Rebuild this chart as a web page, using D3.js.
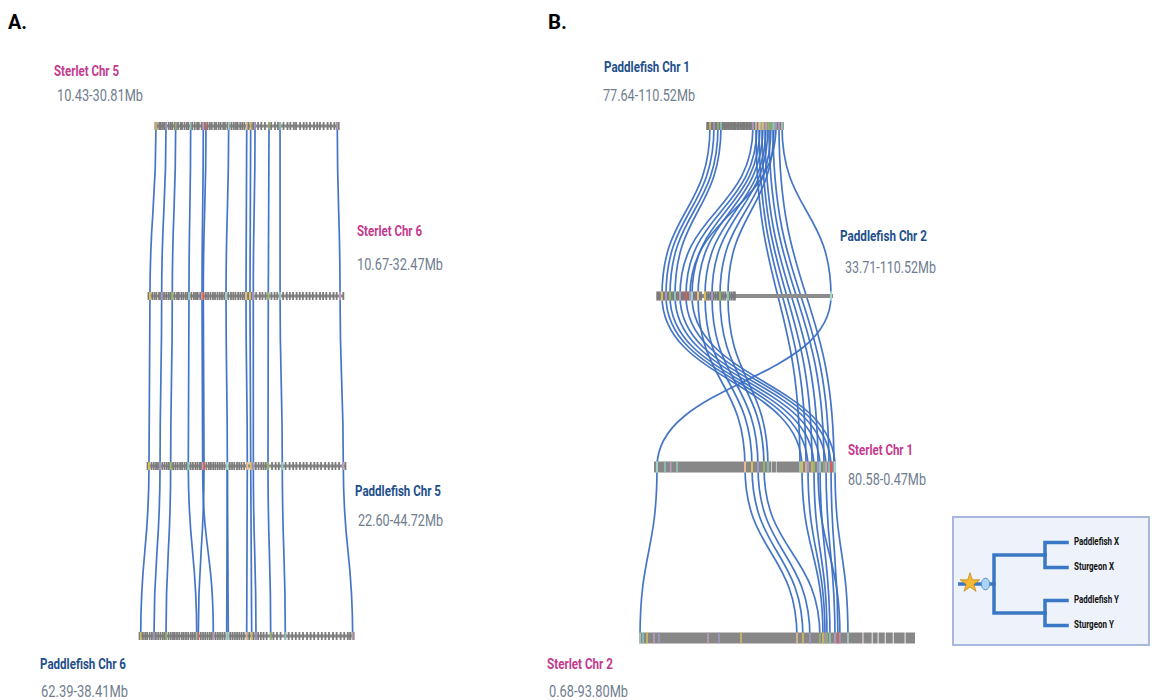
<!DOCTYPE html>
<html>
<head>
<meta charset="utf-8">
<script src="https://cdn.jsdelivr.net/npm/d3@7"></script>
<style>
body { margin: 0; background: #fff; }
svg { display: block; font-family: Roboto, "Noto Sans", sans-serif; }
.panel { font-weight: 700; font-size: 20px; fill: #000; }
.tname { font-weight: 700; font-size: 15px; }
.trange { font-size: 16px; fill: #6f7d8f; }
.leaf { font-weight: 700; font-size: 11px; fill: #111; }
</style>
</head>
<body>
<svg id="chart" width="1152" height="700"></svg>
<script>
/* Synteny blocks: sterlet / paddlefish chromosomes */

// chromosome tracks
var trackIds = ['s5', 's6', 'p5', 'p6', 'p1', 'p2', 's1', 's2'];
var trackNames = ['Sterlet Chr 5', 'Sterlet Chr 6', 'Paddlefish Chr 5', 'Paddlefish Chr 6',
    'Paddlefish Chr 1', 'Paddlefish Chr 2', 'Sterlet Chr 1', 'Sterlet Chr 2'];
var trackStart = [10.43, 10.67, 22.60, 62.39, 77.64, 33.71, 80.58, 0.68];
var trackEnd = [30.81, 32.47, 44.72, 38.41, 110.52, 110.52, 0.47, 93.80];

// gene positions (Mb) on each track
var genesS5 = [10.47, 10.62, 10.9, 11.08, 11.31, 11.52, 11.66, 11.94, 12.15, 12.33, 12.6, 12.74, 12.98, 13.27, 13.42, 13.7,
    13.96, 14.12, 14.4, 14.55, 14.83, 15.1, 15.28, 15.6, 15.79, 15.95, 16.24, 16.5, 16.71, 17.02, 17.2, 17.48, 17.7, 17.99,
    18.18, 18.45, 18.62, 18.9, 19.16, 19.4, 19.58, 19.87, 20.1, 20.33, 20.6, 20.8, 21.05, 21.3, 21.52, 21.85, 22.2, 22.61,
    23.06, 23.3, 23.72, 24.05, 24.3, 24.66, 25.1, 25.42, 25.8, 26.05, 26.5, 26.9, 27.22, 27.6, 28.05, 28.4, 28.7, 29.1,
    29.55, 29.9, 30.3, 30.6, 30.78];
var genesS6 = [10.72, 10.88, 11.15, 11.4, 11.6, 11.9, 12.1, 12.2, 12.45, 12.7, 12.95, 13.15, 13.37, 13.62, 13.9, 14.1,
    14.38, 14.6, 14.85, 15.05, 15.23, 15.5, 15.78, 16.0, 16.2, 16.48, 16.68, 16.82, 17.1, 17.35, 17.62, 17.9, 18.12, 18.4,
    18.66, 18.9, 19.15, 19.35, 19.6, 19.9, 20.15, 20.4, 20.7, 20.95, 21.2, 21.42, 21.57, 21.8, 22.01, 22.2, 22.38, 22.7,
    23.1, 23.4, 23.75, 24.05, 24.4, 24.75, 25.05, 25.36, 25.7, 26.1, 26.45, 26.8, 27.2, 27.55, 27.9, 28.3, 28.65, 29.0,
    29.4, 29.8, 30.15, 30.5, 30.9, 31.3, 31.65, 32.03, 32.4];
var genesP5 = [22.66, 22.82, 23.1, 23.35, 23.6, 23.82, 24.05, 24.3, 24.55, 24.8, 25.03, 25.23, 25.5, 25.76, 26.0, 26.28,
    26.5, 26.77, 27.0, 27.19, 27.45, 27.7, 27.98, 28.2, 28.45, 28.6, 28.79, 28.94, 29.2, 29.48, 29.7, 29.96, 30.2, 30.45,
    30.7, 30.95, 31.2, 31.53, 31.8, 32.05, 32.3, 32.6, 32.85, 33.1, 33.4, 33.75, 34.13, 34.42, 34.7, 35.0, 35.3, 35.55,
    35.8, 36.05, 36.5, 36.9, 37.25, 37.64, 38.0, 38.45, 38.85, 39.2, 39.6, 40.0, 40.35, 40.8, 41.2, 41.55, 41.95, 42.4,
    42.8, 43.2, 43.55, 43.95, 44.42, 44.66];
var genesP6 = [62.33, 62.2, 61.95, 61.7, 61.48, 61.2, 60.95, 60.72, 60.5, 60.25, 60.0, 59.75, 59.55, 59.38, 59.1, 58.85,
    58.6, 58.4, 58.15, 57.9, 57.62, 57.4, 57.15, 56.9, 56.62, 56.4, 56.15, 55.95, 55.78, 55.5, 55.25, 55.0, 54.75, 54.5,
    54.3, 54.1, 53.85, 53.6, 53.35, 53.1, 52.85, 52.61, 52.43, 52.2, 51.95, 51.7, 51.45, 51.2, 50.95, 50.7, 50.38, 50.1,
    49.82, 49.6, 49.34, 49.1, 48.8, 48.5, 48.15, 47.7, 47.4, 47.0, 46.6, 46.07, 45.7, 45.3, 44.9, 44.5, 44.1, 43.65,
    43.25, 42.85, 42.4, 42.0, 41.6, 41.2, 40.75, 40.35, 39.9, 39.5, 39.1, 38.85, 38.56, 38.45];
var genesP1 = [77.7, 78.4, 78.94, 79.6, 80.2, 80.67, 81.3, 81.9, 82.4, 83.0, 83.7, 84.3, 85.0, 85.6, 86.3, 86.9, 87.6,
    88.2, 88.9, 89.5, 90.1, 90.8, 91.4, 92.1, 92.8, 93.4, 94.0, 94.7, 95.3, 96.0, 96.6, 97.2, 97.54, 98.2, 98.84, 99.27,
    99.9, 100.57, 101.2, 101.87, 102.5, 103.16, 103.6, 104.03, 104.46, 105.0, 105.33, 105.9, 106.19, 106.62, 107.1,
    107.49, 108.0, 108.79, 109.3, 110.09, 110.45];
var genesP2 = [33.8, 34.4, 35.0, 35.89, 36.5, 37.1, 37.64, 38.3, 38.9, 39.38, 40.0, 40.7, 41.2, 41.57, 42.3, 42.9, 43.75,
    44.4, 45.0, 45.6, 46.37, 47.0, 47.5, 48.11, 48.98, 49.6, 50.3, 51.0, 51.6, 52.3, 53.0, 54.66, 55.4, 56.1, 56.9, 57.71,
    58.4, 59.2, 60.0, 60.6, 61.2, 62.0, 62.8, 63.6, 64.69, 65.4, 66.2, 67.0, 67.7];
// dense tracks drawn as gene blocks [start, end]
var blocksS1 = [[80.58, 28.9], [28.65, 26.9], [26.65, 0.47]];
var blocksS2 = [[0.68, 76.1], [76.4, 79.2], [79.5, 81.2], [81.5, 83.6], [83.9, 86.3], [86.6, 90.3], [90.6, 93.8]];

// syntenic links: [track, Mb, track, Mb, family]
var linksA = [
    ['s5', 10.54, 's6', 10.89, 0], ['s5', 11.65, 's6', 12.19, 1], ['s5', 12.72, 's6', 13.37, 2], ['s5', 14.38, 's6', 15.23, 3],
    ['s5', 15.78, 's6', 16.68, 4], ['s5', 16.08, 's6', 16.82, 5], ['s5', 18.59, 's6', 19.35, 6], ['s5', 20.59, 's6', 21.57, 7],
    ['s5', 21.03, 's6', 22.01, 8], ['s5', 21.51, 's6', 22.38, 9], ['s5', 23.06, 's6', 24.05, 10], ['s5', 24.28, 's6', 25.36, 11],
    ['s5', 30.62, 's6', 32.03, 12],
    ['s6', 10.89, 'p5', 22.82, 0], ['s6', 12.19, 'p5', 24.05, 1], ['s6', 13.37, 'p5', 25.23, 2], ['s6', 15.23, 'p5', 27.19, 3],
    ['s6', 16.68, 'p5', 28.79, 4], ['s6', 16.82, 'p5', 28.94, 5], ['s6', 19.35, 'p5', 31.53, 6], ['s6', 21.57, 'p5', 33.75, 7],
    ['s6', 22.01, 'p5', 34.13, 8], ['s6', 22.38, 'p5', 34.42, 9], ['s6', 24.05, 'p5', 36.05, 10], ['s6', 25.36, 'p5', 37.64, 11],
    ['s6', 32.03, 'p5', 44.42, 12],
    ['p5', 22.82, 'p6', 62.20, 0], ['p5', 24.05, 'p6', 60.72, 1], ['p5', 25.23, 'p6', 59.38, 2], ['p5', 27.19, 'p6', 55.95, 3],
    ['p5', 28.79, 'p6', 54.10, 4], ['p5', 28.94, 'p6', 55.78, 5], ['p5', 31.53, 'p6', 52.61, 6], ['p5', 31.53, 'p6', 52.43, 6],
    ['p5', 33.75, 'p6', 50.38, 7], ['p5', 34.13, 'p6', 49.82, 8], ['p5', 34.42, 'p6', 49.34, 9], ['p5', 36.05, 'p6', 47.70, 10],
    ['p5', 37.64, 'p6', 46.07, 11], ['p5', 44.42, 'p6', 38.56, 12]
];
var linksB = [
    ['p1', 78.94, 'p2', 35.89, 0], ['p1', 80.67, 'p2', 37.64, 1], ['p1', 82.40, 'p2', 39.38, 2], ['p1', 83.70, 'p2', 41.57, 3],
    ['p1', 97.54, 'p2', 43.75, 4], ['p1', 99.27, 'p2', 46.37, 5], ['p1', 100.57, 'p2', 48.98, 6], ['p1', 101.87, 'p2', 51.60, 7],
    ['p1', 103.16, 'p2', 54.66, 8], ['p1', 104.03, 'p2', 57.71, 9], ['p1', 105.33, 'p2', 61.20, 10], ['p1', 106.62, 'p2', 64.69, 11],
    ['p1', 107.49, 'p2', 48.11, 12], ['p1', 110.09, 'p2', 109.64, 14],
    ['p1', 98.84, 's1', 16.32, 14], ['p1', 100.14, 's1', 13.68, 15], ['p1', 101.43, 's1', 11.03, 16], ['p1', 102.73, 's1', 8.39, 17],
    ['p1', 104.46, 's1', 5.75, 18], ['p1', 106.19, 's1', 3.55, 19], ['p1', 108.79, 's1', 1.35, 20],
    ['p2', 35.89, 's1', 15.44, 0], ['p2', 37.64, 's1', 12.80, 1], ['p2', 39.38, 's1', 10.16, 2], ['p2', 41.57, 's1', 7.51, 3],
    ['p2', 43.75, 's1', 4.87, 4], ['p2', 46.37, 's1', 2.67, 5], ['p2', 48.98, 's1', 0.91, 6], ['p2', 51.60, 's1', 40.53, 7],
    ['p2', 54.66, 's1', 37.44, 8], ['p2', 57.71, 's1', 34.80, 9], ['p2', 61.20, 's1', 32.16, 10], ['p2', 64.69, 's1', 30.40, 11],
    ['p2', 109.64, 's1', 79.26, 14],
    ['s1', 79.26, 's2', 1.02, 14], ['s1', 40.53, 's2', 53.99, 7], ['s1', 37.44, 's2', 56.01, 8], ['s1', 34.80, 's2', 58.37, 9],
    ['s1', 32.16, 's2', 61.75, 10], ['s1', 15.44, 's2', 62.76, 0], ['s1', 12.80, 's2', 63.44, 1], ['s1', 10.16, 's2', 64.11, 2],
    ['s1', 8.39, 's2', 68.49, 17], ['s1', 7.51, 's2', 65.12, 3], ['s1', 4.87, 's2', 66.81, 4], ['s1', 2.67, 's2', 67.82, 5],
    ['s1', 0.91, 's2', 71.19, 6]
];
// other coloured genes on the dense tracks: [track, Mb, family]
var extraMarks = [['s1', 75.74, 3], ['s1', 73.23, 4], ['s1', 70.46, 3], ['s2', 2.03, 3], ['s2', 3.38, 0],
    ['s2', 5.74, 4], ['s2', 7.43, 1], ['s2', 23.96, 4], ['s2', 27.67, 1], ['s2', 35.09, 0]];

// legend tree
var treeLeaves = [['Paddlefish X', 'Sturgeon X'], ['Paddlefish Y', 'Sturgeon Y']];

var panelLabels = ['A.', 'B.'];

// ---- layout ----
var layout = {
    s5: { x0: 155, x1: 339, y: 126, bar: 3, tick: 8, lx: 54, ly: 76, tw: 65, rx: 57, ry: 101, rw: 86 },
    s6: { x0: 148, x1: 344, y: 296, bar: 3, tick: 8, lx: 357, ly: 236, tw: 65, rx: 357, ry: 270, rw: 86 },
    p5: { x0: 147, x1: 346, y: 466, bar: 3, tick: 8, lx: 355, ly: 496, tw: 86, rx: 358, ry: 526, rw: 85 },
    p6: { x0: 139, x1: 354, y: 636, bar: 3, tick: 8, lx: 40, ly: 669, tw: 86, rx: 41, ry: 697, rw: 87 },
    p1: { x0: 707, x1: 783, y: 126, bar: 3, tick: 8, lx: 604, ly: 72, tw: 86, rx: 603, ry: 101, rw: 92 },
    p2: { x0: 657, x1: 833, y: 296, bar: 4, tick: 9, lx: 840, ly: 241, tw: 87, rx: 845, ry: 273, rw: 91 },
    s1: { x0: 654, x1: 836, y: 467, bar: 11, tick: 11, lx: 848, ly: 455, tw: 65, rx: 848, ry: 485, rw: 78 },
    s2: { x0: 639, x1: 915, y: 638, bar: 11, tick: 11, lx: 547, ly: 669, tw: 66, rx: 549, ry: 697, rw: 79 }
};
var geneTicks = { s5: genesS5, s6: genesS6, p5: genesP5, p6: genesP6, p1: genesP1, p2: genesP2 };
var geneBlocks = { s1: blocksS1, s2: blocksS2 };

var linkColor = '#3b6fc2';
var markColors = ['#e2c453', '#a49bd2', '#97bb6c', '#8ecfc6', '#c6a0c8', '#df5d56', '#a9dcd3', '#f3c38f'];
var pink = '#c43a8e', navy = '#1e4f8b';

var svg = d3.select('#chart');

var scales = {};
trackIds.forEach(function(id, i) {
    var l = layout[id];
    scales[id] = d3.scaleLinear().domain([trackStart[i], trackEnd[i]]).range([l.x0, l.x1]);
});

var linkGen = d3.linkVertical().x(function(d) { return d[0]; }).y(function(d) { return d[1]; });

function endPoints(d) {
    return {
        source: [scales[d[0]](d[1]), layout[d[0]].y],
        target: [scales[d[2]](d[3]), layout[d[2]].y]
    };
}

var allLinks = linksA.concat(linksB);

// Draw links
svg.append('g')
    .selectAll('path')
    .data(allLinks)
    .enter()
    .append('path')
    .attr('d', function(d) { return linkGen(endPoints(d)); })
    .attr('fill', 'none')
    .attr('stroke', linkColor)
    .attr('stroke-width', 1.7)
    .attr('stroke-opacity', 0.95);

// Draw tracks
var gTracks = svg.append('g');
trackIds.forEach(function(id) {
    var l = layout[id], x = scales[id];
    var g = gTracks.append('g');
    if (geneBlocks[id]) {
        g.selectAll('rect')
            .data(geneBlocks[id])
            .enter()
            .append('rect')
            .attr('x', function(d) { return Math.min(x(d[0]), x(d[1])); })
            .attr('width', function(d) { return Math.abs(x(d[1]) - x(d[0])); })
            .attr('y', l.y - l.bar / 2)
            .attr('height', l.bar)
            .attr('fill', '#878787');
    } else {
        g.append('rect')
            .attr('x', l.x0)
            .attr('width', l.x1 - l.x0)
            .attr('y', l.y - l.bar / 2)
            .attr('height', l.bar)
            .attr('fill', '#8c8c8c');
        g.selectAll('.gene')
            .data(geneTicks[id])
            .enter()
            .append('rect')
            .attr('class', 'gene')
            .attr('x', function(d) { return x(d) - 0.9; })
            .attr('width', 1.8)
            .attr('y', l.y - l.tick / 2)
            .attr('height', l.tick)
            .attr('fill', '#7b7b7b');
    }
});

// coloured marks at linked genes
var marks = [];
allLinks.forEach(function(d) {
    marks.push([d[0], d[1], d[4]]);
    marks.push([d[2], d[3], d[4]]);
});
marks = marks.concat(extraMarks);
gTracks.append('g')
    .selectAll('rect')
    .data(marks)
    .enter()
    .append('rect')
    .attr('x', function(d) { return scales[d[0]](d[1]) - 0.8; })
    .attr('width', 1.6)
    .attr('y', function(d) { return layout[d[0]].y - layout[d[0]].tick / 2; })
    .attr('height', function(d) { return layout[d[0]].tick; })
    .attr('fill', function(d) { return markColors[d[2] % markColors.length]; })
    .attr('opacity', 0.85);

// Track labels
trackIds.forEach(function(id, i) {
    var l = layout[id];
    svg.append('text')
        .attr('class', 'tname')
        .attr('x', l.lx)
        .attr('y', l.ly)
        .attr('fill', trackNames[i].indexOf('Sterlet') === 0 ? pink : navy)
        .attr('textLength', l.tw)
        .attr('lengthAdjust', 'spacingAndGlyphs')
        .text(trackNames[i]);
    svg.append('text')
        .attr('class', 'trange')
        .attr('x', l.rx)
        .attr('y', l.ry)
        .attr('textLength', l.rw)
        .attr('lengthAdjust', 'spacingAndGlyphs')
        .text(trackStart[i].toFixed(2) + '-' + trackEnd[i].toFixed(2) + 'Mb');
});

// Panel letters
svg.selectAll('.panel')
    .data(panelLabels)
    .enter()
    .append('text')
    .attr('class', 'panel')
    .attr('x', function(d, i) { return i === 0 ? 8 : 548; })
    .attr('y', 29)
    .attr('textLength', 19)
    .attr('lengthAdjust', 'spacingAndGlyphs')
    .text(function(d) { return d; });

// Legend box with tree
var legend = svg.append('g');
legend.append('rect')
    .attr('x', 953)
    .attr('y', 517)
    .attr('width', 196)
    .attr('height', 128)
    .attr('fill', '#eef3fb')
    .attr('stroke', '#a7b8dc')
    .attr('stroke-width', 2);

var root = d3.hierarchy({ children: treeLeaves.map(function(p) { return { children: p.map(function(n) { return { name: n }; }) }; }) });
d3.cluster()
    .nodeSize([25, 1])
    .separation(function(a, b) { return a.parent === b.parent ? 1 : 1.32; })(root);
var depthX = [994, 1045, 1067];
var treeMid = 584;
var tx = function(d) { return depthX[d.depth]; };
var ty = function(d) { return treeMid + d.x - root.x; };

legend.selectAll('.branch')
    .data(root.links())
    .enter()
    .append('path')
    .attr('class', 'branch')
    .attr('d', function(d) {
        return 'M' + tx(d.source) + ',' + ty(d.source) + 'V' + ty(d.target) + 'H' + tx(d.target);
    })
    .attr('fill', 'none')
    .attr('stroke', '#3a78c4')
    .attr('stroke-width', 3.5)
    .attr('stroke-linecap', 'square');

legend.append('path')
    .attr('d', 'M958,' + ty(root) + 'H' + tx(root))
    .attr('stroke', '#3a78c4')
    .attr('stroke-width', 3.5);

legend.append('path')
    .attr('d', d3.symbol(d3.symbolStar, 120)())
    .attr('transform', 'translate(970,' + (ty(root) - 1) + ')')
    .attr('fill', '#f6b933')
    .attr('stroke', '#c98b1c')
    .attr('stroke-width', 0.8);

legend.append('ellipse')
    .attr('cx', 985.5)
    .attr('cy', ty(root))
    .attr('rx', 4.2)
    .attr('ry', 5.8)
    .attr('fill', '#acd4f5')
    .attr('stroke', '#5b93cf')
    .attr('stroke-width', 1);

legend.selectAll('.leaf')
    .data(root.leaves())
    .enter()
    .append('text')
    .attr('class', 'leaf')
    .attr('x', 1074)
    .attr('y', function(d) { return ty(d) + 2; })
    .attr('textLength', function(d) { return d.data.name.indexOf('Paddle') === 0 ? 45 : 40; })
    .attr('lengthAdjust', 'spacingAndGlyphs')
    .text(function(d) { return d.data.name; });
</script>
</body>
</html>
